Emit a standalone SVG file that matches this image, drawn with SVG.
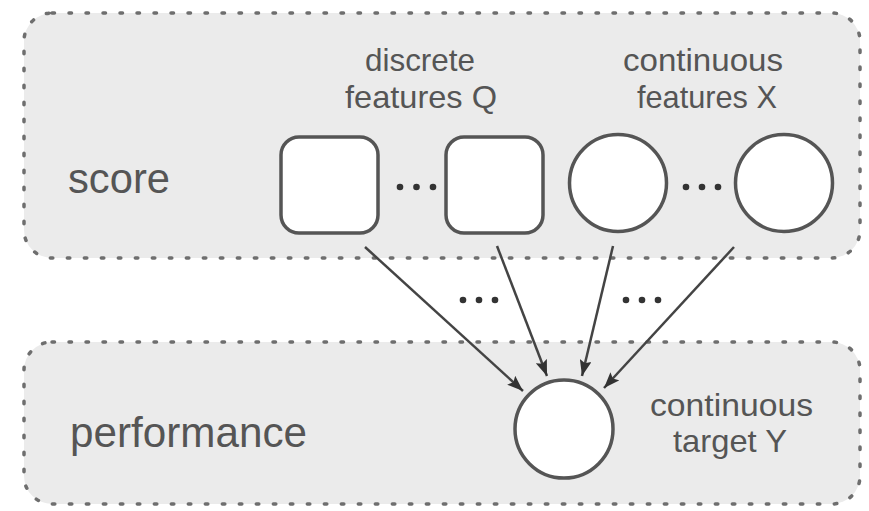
<svg xmlns="http://www.w3.org/2000/svg" width="869" height="511" viewBox="0 0 869 511">
  <defs>
    <style>
      .panel { fill: #ebebeb; stroke: #6e6e6e; stroke-width: 3.5; stroke-dasharray: 2.5 14.5; stroke-linecap: round; }
      .node { fill: #ffffff; stroke: #555555; stroke-width: 3.5; }
      .lbl { font-family: "Liberation Sans", Arial, sans-serif; fill: #555555; }
      .big { font-size: 43px; }
      .small { font-size: 32px; }
      .dot { fill: #333333; }
      .edge { stroke: #444444; stroke-width: 2.5; fill: none; marker-end: url(#arr); }
    </style>
    <marker id="arr" markerUnits="userSpaceOnUse" viewBox="0 0 16 12" refX="16" refY="6" markerWidth="16" markerHeight="12" orient="auto">
      <path d="M0,0 L16,6 L0,12 L3,6 Z" fill="#333333"/>
    </marker>
  </defs>
  <rect width="869" height="511" fill="#ffffff"/>

  <g id="panel-score">
    <rect class="panel" x="24" y="13" width="836" height="245" rx="28" ry="28"/>
    <text class="lbl big" x="68" y="193" textLength="102" lengthAdjust="spacingAndGlyphs">score</text>
    <text class="lbl small" x="365" y="71" textLength="110" lengthAdjust="spacingAndGlyphs">discrete</text>
    <text class="lbl small" x="345" y="108" textLength="152" lengthAdjust="spacingAndGlyphs">features Q</text>
    <text class="lbl small" x="623" y="71" textLength="160" lengthAdjust="spacingAndGlyphs">continuous</text>
    <text class="lbl small" x="637" y="108" textLength="140" lengthAdjust="spacingAndGlyphs">features X</text>
  </g>

  <g id="panel-performance">
    <rect class="panel" x="24" y="342" width="836" height="162" rx="28" ry="28"/>
    <text class="lbl big" x="70" y="447" textLength="237" lengthAdjust="spacingAndGlyphs">performance</text>
    <text class="lbl small" x="650" y="416" textLength="163" lengthAdjust="spacingAndGlyphs">continuous</text>
    <text class="lbl small" x="673" y="452" textLength="114" lengthAdjust="spacingAndGlyphs">target Y</text>
  </g>

  <g id="q1"><rect class="node" x="281" y="137" width="97" height="96" rx="18" ry="18"/></g>
  <g id="q-dots">
    <circle class="dot" cx="400" cy="187" r="3.3"/>
    <circle class="dot" cx="416.5" cy="187" r="3.3"/>
    <circle class="dot" cx="433" cy="187" r="3.3"/>
  </g>
  <g id="qn"><rect class="node" x="446" y="137" width="97" height="96" rx="18" ry="18"/></g>
  <g id="x1"><circle class="node" cx="618" cy="183" r="48.5"/></g>
  <g id="x-dots">
    <circle class="dot" cx="686" cy="187" r="3.3"/>
    <circle class="dot" cx="702" cy="187" r="3.3"/>
    <circle class="dot" cx="718" cy="187" r="3.3"/>
  </g>
  <g id="xn"><circle class="node" cx="784" cy="183" r="48.5"/></g>
  <g id="y"><circle class="node" cx="564" cy="429" r="49"/></g>

  <g id="connectors">
    <line class="edge" x1="365" y1="247" x2="523" y2="391"/>
    <line class="edge" x1="497" y1="246" x2="547" y2="376"/>
    <line class="edge" x1="613" y1="246" x2="582" y2="376"/>
    <line class="edge" x1="734" y1="247" x2="604" y2="388"/>
    <circle class="dot" cx="463" cy="300" r="3.3"/>
    <circle class="dot" cx="479" cy="300" r="3.3"/>
    <circle class="dot" cx="495" cy="300" r="3.3"/>
    <circle class="dot" cx="626" cy="300" r="3.3"/>
    <circle class="dot" cx="642" cy="300" r="3.3"/>
    <circle class="dot" cx="658" cy="300" r="3.3"/>
  </g>
</svg>
